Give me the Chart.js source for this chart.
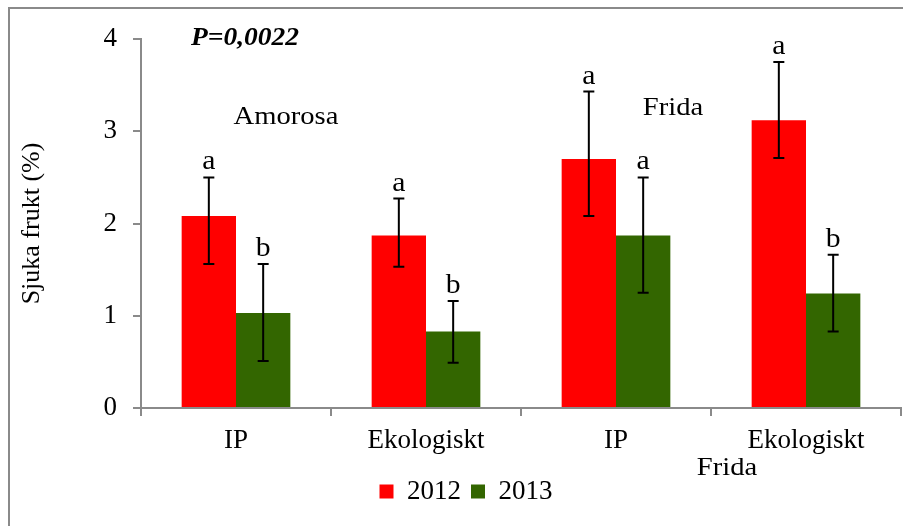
<!DOCTYPE html>
<html>
<head>
<meta charset="utf-8">
<script src="https://cdn.jsdelivr.net/npm/chart.js@4"></script>
<style>
  html, body { margin: 0; padding: 0; background: #fff; }
  #wrap { width: 903px; height: 526px; position: relative; }
</style>
</head>
<body>
<div id="wrap"><canvas id="c" width="903" height="526"></canvas></div>
<script>
// ---- data ----
const categories = ['IP', 'Ekologiskt', 'IP', 'Ekologiskt'];
const seriesNames = ['2012', '2013'];
const values2012 = [2.08, 1.87, 2.70, 3.12];
const values2013 = [1.03, 0.83, 1.87, 1.24];
const errHigh2012 = [2.50, 2.27, 3.43, 3.75];
const errLow2012  = [1.56, 1.53, 2.08, 2.71];
const errHigh2013 = [1.56, 1.16, 2.50, 1.66];
const errLow2013  = [0.51, 0.49, 1.25, 0.83];
const letters2012 = ['a', 'a', 'a', 'a'];
const letters2013 = ['b', 'b', 'a', 'b'];
const yTicks = [0, 1, 2, 3, 4];
const yTitle = 'Sjuka frukt (%)';
const pText = 'P=0,0022';
const cultivarLabels = ['Amorosa', 'Frida', 'Frida'];

const SERIF = '"Liberation Serif", "Times New Roman", serif';
const AXIS_GRAY = '#8a8a8a';
const STRETCH = 1.1;

const errHigh = [errHigh2012, errHigh2013];
const errLow = [errLow2012, errLow2013];
const letters = [letters2012, letters2013];

function wideText(ctx, text, x, y) {
  ctx.save();
  ctx.translate(x, y);
  ctx.scale(STRETCH, 1);
  ctx.fillText(text, 0, 0);
  ctx.restore();
}

const annotPlugin = {
  id: 'annot',
  beforeDraw(chart) {
    const ctx = chart.ctx;
    ctx.save();
    ctx.fillStyle = '#fff';
    ctx.fillRect(0, 0, chart.width, chart.height);
    ctx.restore();
  },
  afterDatasetsDraw(chart) {
    const ctx = chart.ctx;
    const y = chart.scales.y;
    ctx.save();
    for (let d = 0; d < chart.data.datasets.length; d++) {
      const meta = chart.getDatasetMeta(d);
      meta.data.forEach((bar, i) => {
        const x = bar.x;
        const yHi = y.getPixelForValue(errHigh[d][i]);
        const yLo = y.getPixelForValue(errLow[d][i]);
        ctx.strokeStyle = '#000';
        ctx.lineWidth = 2;
        ctx.beginPath();
        ctx.moveTo(x, yHi); ctx.lineTo(x, yLo);
        ctx.moveTo(x - 5.5, yHi); ctx.lineTo(x + 5.5, yHi);
        ctx.moveTo(x - 5.5, yLo); ctx.lineTo(x + 5.5, yLo);
        ctx.stroke();
        ctx.fillStyle = '#000';
        ctx.font = '27px ' + SERIF;
        ctx.textAlign = 'center';
        ctx.textBaseline = 'alphabetic';
        wideText(ctx, letters[d][i], x, yHi - 8);
      });
    }
    ctx.restore();
  },
  afterDraw(chart) {
    const ctx = chart.ctx;
    const a = chart.chartArea;
    ctx.save();
    // outer frame (top & left edges visible)
    ctx.strokeStyle = AXIS_GRAY;
    ctx.lineWidth = 2;
    ctx.beginPath();
    ctx.moveTo(9, chart.height);
    ctx.lineTo(9, 8);
    ctx.lineTo(chart.width, 8);
    ctx.stroke();

    ctx.fillStyle = '#000';
    ctx.textAlign = 'center';
    ctx.textBaseline = 'middle';
    ctx.font = 'italic bold 25px ' + SERIF;
    wideText(ctx, pText, a.left + 104, a.top + 0);
    ctx.font = '26px ' + SERIF;
    wideText(ctx, cultivarLabels[0], a.left + 145, a.top + 78);
    wideText(ctx, cultivarLabels[1], a.left + 532, a.top + 69);
    wideText(ctx, cultivarLabels[2], a.left + 586, a.bottom + 60);
    ctx.restore();
  }
};

new Chart(document.getElementById('c'), {
  type: 'bar',
  data: {
    labels: categories,
    datasets: [
      { label: seriesNames[0], data: values2012, backgroundColor: '#ff0000', borderWidth: 0 },
      { label: seriesNames[1], data: values2013, backgroundColor: '#336600', borderWidth: 0 }
    ]
  },
  options: {
    responsive: false,
    animation: false,
    devicePixelRatio: 1,
    layout: { padding: { top: 39, left: 31, right: 2, bottom: 11 } },
    datasets: { bar: { categoryPercentage: 0.572, barPercentage: 1.0 } },
    plugins: {
      legend: {
        position: 'bottom',
        labels: {
          color: '#000',
          font: { family: SERIF, size: 27 },
          boxWidth: 14,
          boxHeight: 14,
          padding: 10
        }
      },
      tooltip: { enabled: false },
      title: { display: false }
    },
    scales: {
      x: {
        afterFit(scale) { scale.height = 60; },
        grid: {
          offset: true,
          drawOnChartArea: false,
          drawTicks: true,
          tickLength: 8,
          color: AXIS_GRAY,
          lineWidth: 2
        },
        border: { display: true, color: AXIS_GRAY, width: 2 },
        ticks: {
          color: '#000',
          font: { family: SERIF, size: 27 },
          padding: 9,
          maxRotation: 0
        }
      },
      y: {
        min: 0,
        max: 4,
        afterFit(scale) { scale.width = 110; },
        afterBuildTicks(scale) { scale.ticks = yTicks.map(v => ({ value: v })); },
        grid: {
          drawOnChartArea: false,
          drawTicks: true,
          tickLength: 8,
          color: AXIS_GRAY,
          lineWidth: 2
        },
        border: { display: true, color: AXIS_GRAY, width: 2 },
        ticks: {
          color: '#000',
          font: { family: SERIF, size: 27 },
          padding: 16
        },
        title: {
          display: true,
          text: yTitle,
          color: '#000',
          font: { family: SERIF, size: 26 },
          padding: { top: -14, bottom: 0 }
        }
      }
    }
  },
  plugins: [annotPlugin]
});
</script>
</body>
</html>
